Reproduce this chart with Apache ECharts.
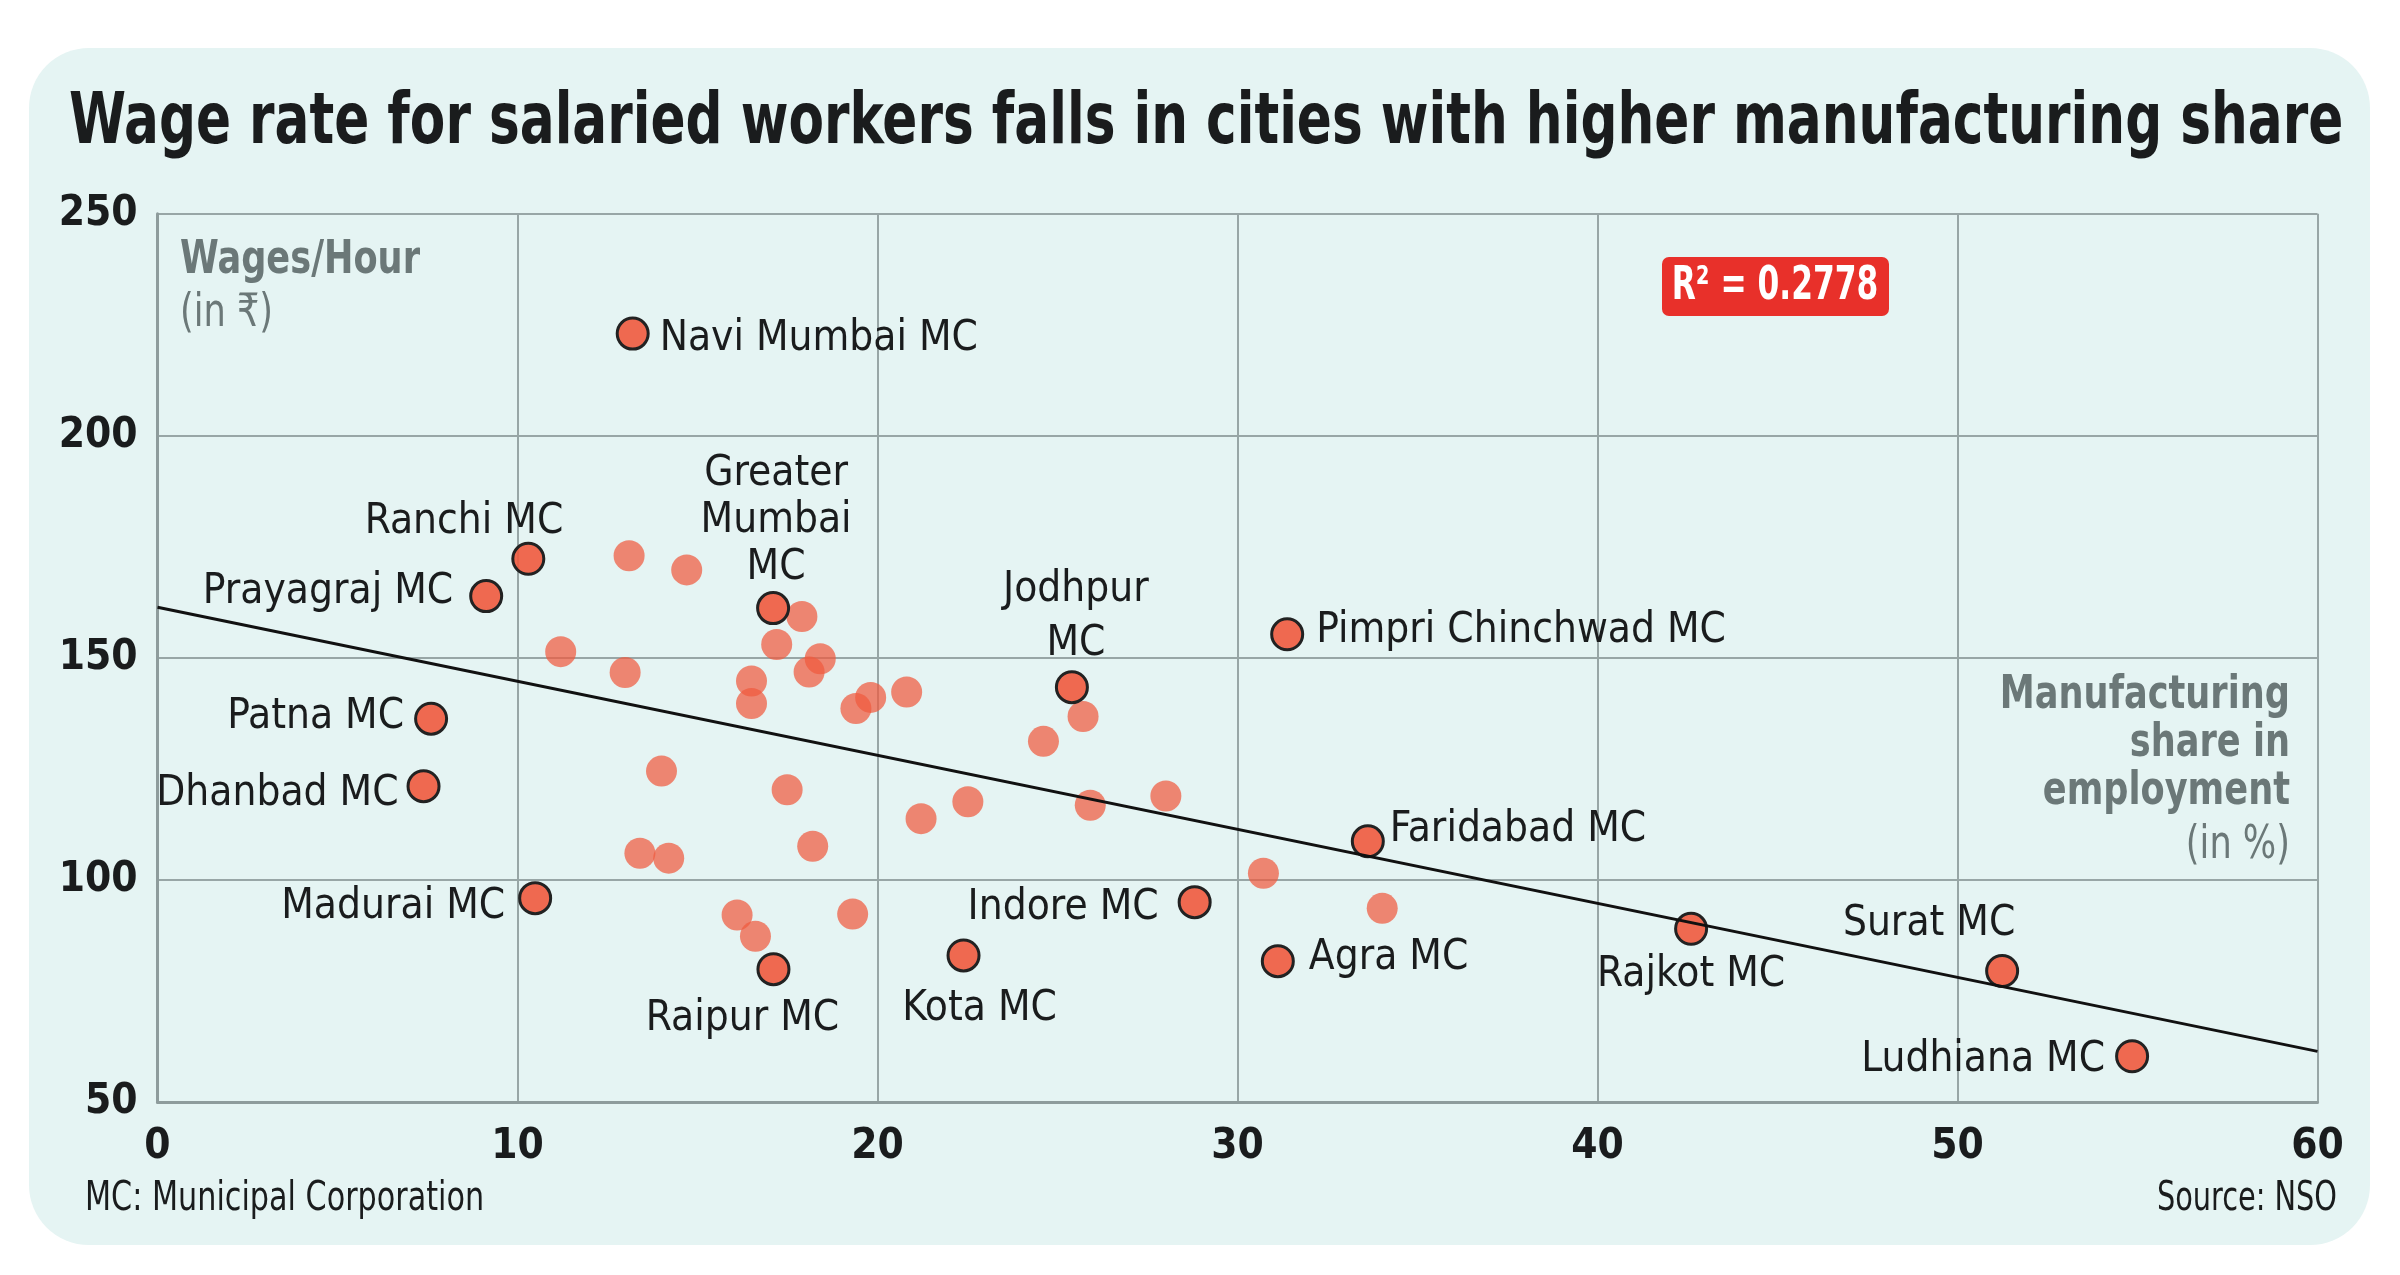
<!DOCTYPE html>
<html>
<head>
<meta charset="utf-8">
<script src="https://cdn.jsdelivr.net/npm/echarts@6/dist/echarts.min.js"></script>
<style>
html,body{margin:0;padding:0;background:#ffffff;}
#chart{width:2400px;height:1275px;}
</style>
</head>
<body>
<div id="chart"></div>
<script>
// ---- data ----
const labeledNames = ['Navi Mumbai MC','Ranchi MC','Prayagraj MC','Greater\nMumbai\nMC','Jodhpur\nMC','Pimpri Chinchwad MC','Patna MC','Dhanbad MC','Madurai MC','Raipur MC','Kota MC','Indore MC','Agra MC','Faridabad MC','Rajkot MC','Surat MC','Ludhiana MC'];
const labeledX = [13.2, 10.3, 9.13, 17.1, 25.4, 31.38, 7.6, 7.39, 10.49, 17.11, 22.39, 28.81, 31.12, 33.62, 42.6, 51.24, 54.85];
const labeledY = [223.0, 172.3, 163.9, 161.2, 143.4, 155.3, 136.3, 121.1, 95.9, 79.9, 83.0, 95.0, 81.7, 108.7, 89.0, 79.5, 60.3];

const otherX = [13.10, 14.70, 17.90, 17.20, 18.41, 18.10, 11.20, 12.99, 16.50, 16.50, 19.81, 19.40, 20.81, 25.71, 24.61, 14.00, 17.49, 22.51, 21.21, 25.91, 28.01, 18.20, 13.40, 14.20, 30.72, 34.02, 16.10, 16.61, 19.31];
const otherY = [173.0, 169.8, 159.3, 153.0, 149.8, 146.8, 151.4, 146.7, 144.8, 139.7, 141.1, 138.6, 142.3, 136.8, 131.2, 124.5, 120.3, 117.6, 113.8, 116.8, 118.9, 107.6, 106.0, 104.9, 101.5, 93.6, 92.1, 87.3, 92.3];

const trendX = [0, 60];
const trendY = [161.4, 61.4];

const xTicks = [0, 10, 20, 30, 40, 50, 60];
const yTicks = [50, 100, 150, 200, 250];

const titleText = 'Wage rate for salaried workers falls in cities with higher manufacturing share';
const rSquared = 'R² = 0.2778';
const noteText = 'MC: Municipal Corporation';
const sourceText = 'Source: NSO';

// ---- label placement relative to each dot (style, not data) ----
const labelLayout = {
  'Navi Mumbai MC':      {dx: 27,  dy: 0,   align: 'left'},
  'Ranchi MC':           {dx: 35,  dy: -42, align: 'right'},
  'Prayagraj MC':        {dx: -33, dy: -9,  align: 'right'},
  'Greater\nMumbai\nMC': {dx: 3,   dy: -92, align: 'center', lh: 47},
  'Jodhpur\nMC':         {dx: 4,   dy: -75, align: 'center', lh: 54},
  'Pimpri Chinchwad MC': {dx: 29,  dy: -8,  align: 'left'},
  'Patna MC':            {dx: -27, dy: -7,  align: 'right'},
  'Dhanbad MC':          {dx: -25, dy: 3,   align: 'right'},
  'Madurai MC':          {dx: -30, dy: 4,   align: 'right'},
  'Raipur MC':           {dx: -31, dy: 45,  align: 'center'},
  'Kota MC':             {dx: 16,  dy: 49,  align: 'center'},
  'Indore MC':           {dx: -36, dy: 1,   align: 'right'},
  'Agra MC':             {dx: 31,  dy: -8,  align: 'left'},
  'Faridabad MC':        {dx: 22,  dy: -16, align: 'left'},
  'Rajkot MC':           {dx: 0,   dy: 41,  align: 'center'},
  'Surat MC':            {dx: -73, dy: -52, align: 'center'},
  'Ludhiana MC':         {dx: -27, dy: -1,  align: 'right'}
};
const LABEL_SHIFT_Y = 5; // text box centre vs cap centre

const FONT = "'DejaVu Sans Condensed', 'DejaVu Sans', sans-serif";
const DOT = 'rgba(240,90,62,0.9)';
const GRID = '#98a6a6';
const GREY = '#6b7878';
const INK = '#1a1c1d';

const labeledData = labeledNames.map((n, i) => {
  const L = labelLayout[n];
  return {
    name: n,
    value: [labeledX[i], labeledY[i]],
    label: {
      show: true,
      formatter: n,
      position: 'inside',
      offset: [L.dx, L.dy + LABEL_SHIFT_Y],
      align: L.align,
      verticalAlign: 'middle',
      fontFamily: FONT,
      fontSize: 42,
      lineHeight: L.lh || 48,
      color: INK
    }
  };
});

const otherData = otherX.map((x, i) => [x, otherY[i]]);
const trendData = trendX.map((x, i) => [x, trendY[i]]);

const chart = echarts.init(document.getElementById('chart'), null, {renderer: 'canvas', width: 2400, height: 1275});

const option = {
  backgroundColor: '#ffffff',
  animation: false,
  textStyle: {fontFamily: FONT},
  grid: {left: 157.5, right: 82.5, top: 213.7, bottom: 173, containLabel: false},
  xAxis: {
    type: 'value', min: xTicks[0], max: xTicks[xTicks.length - 1], interval: 10,
    axisLine: {show: true, onZero: false, lineStyle: {color: '#8e9c9c', width: 3}},
    axisTick: {show: false},
    splitLine: {show: true, lineStyle: {color: GRID, width: 2}},
    axisLabel: {fontFamily: FONT, fontSize: 42, fontWeight: 'bold', color: INK, margin: 24,
      formatter: v => xTicks.includes(v) ? String(v) : ''}
  },
  yAxis: {
    type: 'value', min: yTicks[0], max: yTicks[yTicks.length - 1], interval: 50,
    axisLine: {show: true, onZero: false, lineStyle: {color: '#8e9c9c', width: 3}},
    axisTick: {show: false},
    splitLine: {show: true, lineStyle: {color: GRID, width: 2}},
    axisLabel: {fontFamily: FONT, fontSize: 42, fontWeight: 'bold', color: INK, margin: 20,
      formatter: v => yTicks.includes(v) ? String(v) : ''}
  },
  graphic: [
    {type: 'rect', z: -10, silent: true,
      shape: {x: 29, y: 48, width: 2341, height: 1197, r: 60},
      style: {fill: '#e5f4f3'}},
    {type: 'text', z: 10, x: 69, y: 125, scaleX: 0.81,
      style: {text: titleText, font: "bold 71px " + FONT, fill: INK, verticalAlign: 'middle'}},
    {type: 'text', z: 10, x: 180, y: 261, scaleX: 0.85,
      style: {text: 'Wages/Hour', font: "bold 46px " + FONT, fill: GREY, verticalAlign: 'middle'}},
    {type: 'text', z: 10, x: 180, y: 314, scaleX: 0.85,
      style: {text: '(in ₹)', font: "46px " + FONT, fill: GREY, verticalAlign: 'middle'}},
    {type: 'text', z: 10, x: 2290, y: 744, scaleX: 0.85,
      style: {text: 'Manufacturing\nshare in\nemployment', font: "bold 46px " + FONT, fill: GREY,
        align: 'right', verticalAlign: 'middle', lineHeight: 48}},
    {type: 'text', z: 10, x: 2290, y: 846, scaleX: 0.85,
      style: {text: '(in %)', font: "46px " + FONT, fill: GREY, align: 'right', verticalAlign: 'middle'}},
    {type: 'rect', z: 10,
      shape: {x: 1662, y: 257, width: 227, height: 59, r: 7},
      style: {fill: '#e8302a'}},
    {type: 'text', z: 11, x: 1775, y: 287, scaleX: 0.74,
      style: {text: rSquared, font: "bold 47px " + FONT, fill: '#ffffff', align: 'center', verticalAlign: 'middle'}},
    {type: 'text', z: 10, x: 85, y: 1200, scaleX: 0.84,
      style: {text: noteText, font: "40px " + FONT, fill: INK, verticalAlign: 'middle'}},
    {type: 'text', z: 10, x: 2337, y: 1200, scaleX: 0.8,
      style: {text: sourceText, font: "40px " + FONT, fill: INK, align: 'right', verticalAlign: 'middle'}}
  ],
  series: [
    {
      type: 'scatter', name: 'others', z: 2,
      symbolSize: 31,
      itemStyle: {color: DOT, borderWidth: 0},
      data: otherData
    },
    {
      type: 'scatter', name: 'labeled', z: 3,
      symbolSize: 31,
      itemStyle: {color: DOT, borderColor: '#222222', borderWidth: 3, opacity: 1},
      data: labeledData
    },
    {
      type: 'line', name: 'trend', z: 5,
      symbol: 'none',
      lineStyle: {color: '#111111', width: 3},
      data: trendData
    }
  ]
};
chart.setOption(option);
</script>
</body>
</html>
